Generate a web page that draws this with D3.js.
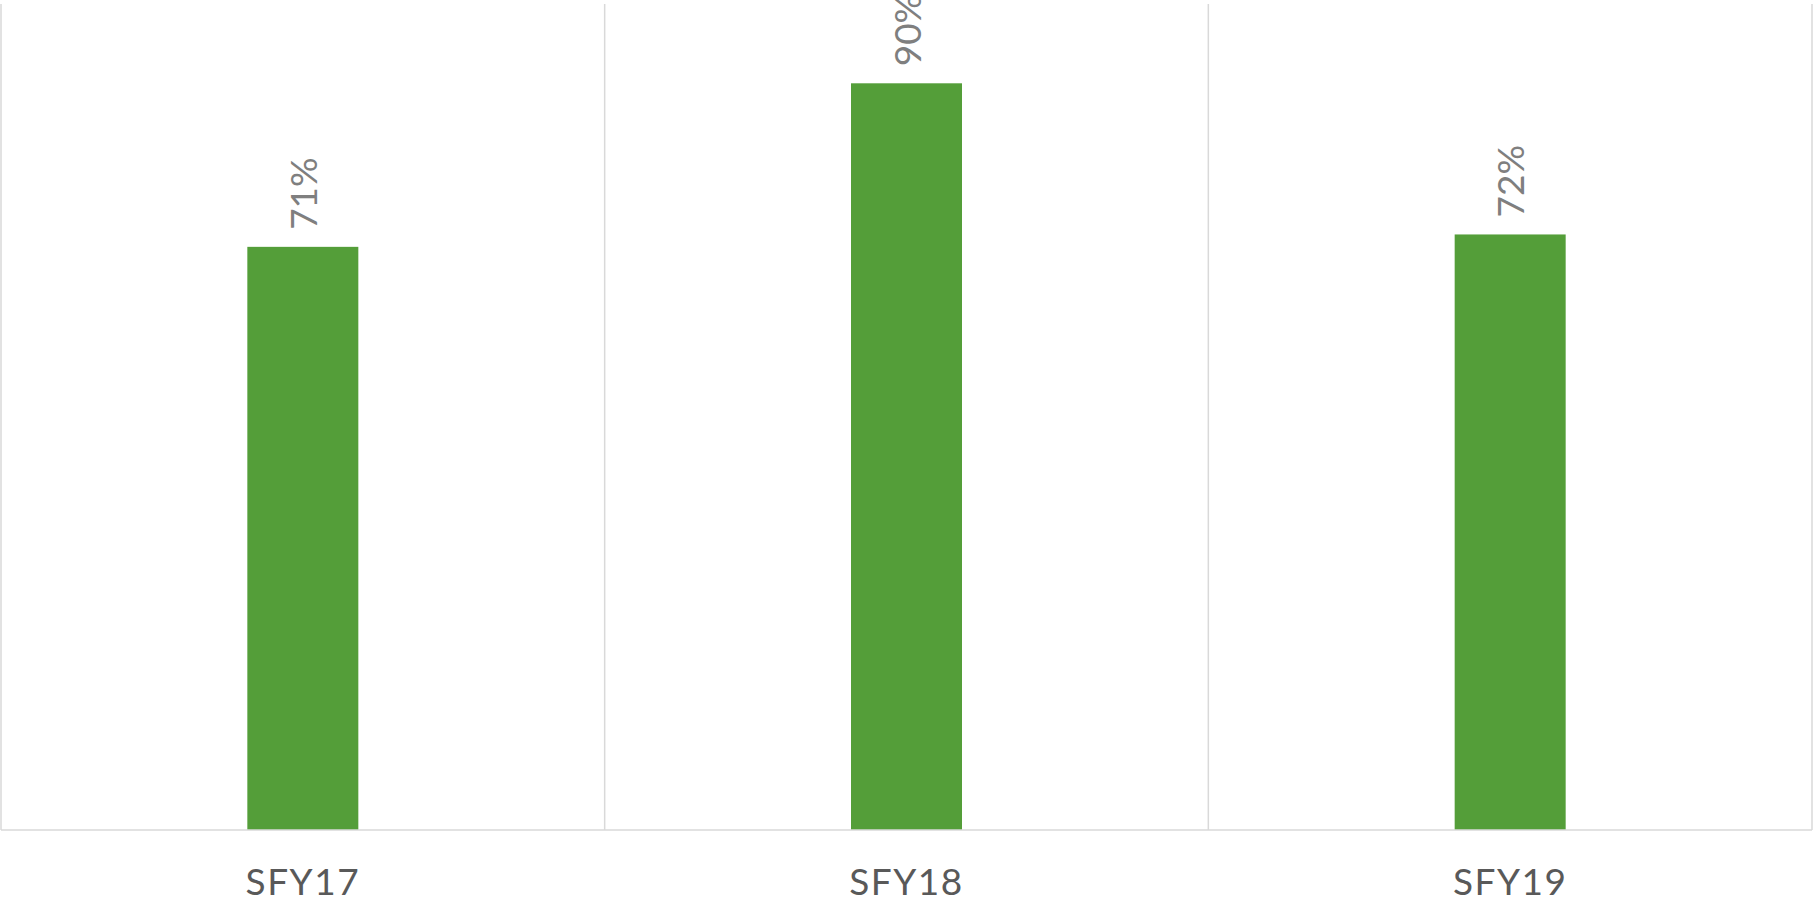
<!DOCTYPE html>
<html>
<head>
<meta charset="utf-8">
<script src="https://cdn.jsdelivr.net/npm/d3@7"></script>
<style>
    html, body { margin: 0; padding: 0; background: #ffffff; }
    svg { display: block; }
    .grid line { stroke: #d9d9d9; stroke-width: 1.5; }
    .xlabel { font-family: Lato, sans-serif; font-size: 37px; fill: #595959; letter-spacing: 1.5px; }
    .vlabel { font-family: Lato, sans-serif; font-size: 37px; fill: #7f7f7f; }
</style>
</head>
<body>
<div id="chart"></div>
<script>
// chart data
const categories = ['SFY17', 'SFY18', 'SFY19'];
const values = [0.706, 0.904, 0.721];

const w = 1813;
const h = 903;
const margin = {top: 4, right: 1, bottom: 73, left: 1};
const barColor = '#549e39';

const svg = d3.select('#chart')
    .append('svg')
    .attr('width', w)
    .attr('height', h);

const xScale = d3.scaleBand()
    .domain(categories)
    .range([margin.left, w - margin.right])
    .paddingInner(0)
    .paddingOuter(0);

const yScale = d3.scaleLinear()
    .domain([0, 1])
    .range([h - margin.bottom, margin.top]);

const barWidth = 111;
const fmt = d3.format('.0%');

// vertical gridlines at category boundaries (including the plot edges)
const bounds = categories.map(function(c) {return xScale(c);}).concat([w - margin.right]);
svg.append('g')
    .attr('class', 'grid')
    .selectAll('line')
    .data(bounds)
    .enter()
    .append('line')
    .attr('x1', function(d) {return d;})
    .attr('x2', function(d) {return d;})
    .attr('y1', yScale(1))
    .attr('y2', yScale(0));

// bars
svg.selectAll('rect.bar')
    .data(values)
    .enter()
    .append('rect')
    .attr('class', 'bar')
    .attr('x', function(d, i) {return xScale(categories[i]) + xScale.bandwidth() / 2 - barWidth / 2;})
    .attr('y', function(d) {return yScale(d);})
    .attr('width', barWidth)
    .attr('height', function(d) {return yScale(0) - yScale(d);})
    .attr('fill', barColor);

// baseline
svg.append('g')
    .attr('class', 'grid')
    .append('line')
    .attr('x1', margin.left)
    .attr('x2', w - margin.right)
    .attr('y1', yScale(0))
    .attr('y2', yScale(0));

// rotated value labels
svg.selectAll('text.vlabel')
    .data(values)
    .enter()
    .append('text')
    .attr('class', 'vlabel')
    .attr('transform', function(d, i) {
        const cx = xScale(categories[i]) + xScale.bandwidth() / 2;
        return 'translate(' + (cx + 14) + ',' + (yScale(d) - 17) + ') rotate(-90)';
    })
    .attr('text-anchor', 'start')
    .text(function(d) {return fmt(d);});

// category axis
const xAxis = svg.append('g')
    .attr('transform', 'translate(0,' + yScale(0) + ')')
    .call(d3.axisBottom(xScale).tickSize(0).tickPadding(0));
xAxis.select('.domain').remove();
xAxis.selectAll('text')
    .attr('class', 'xlabel')
    .attr('fill', null)
    .attr('font-size', null)
    .attr('font-family', null)
    .attr('dy', null)
    .attr('y', 65);
</script>
</body>
</html>
